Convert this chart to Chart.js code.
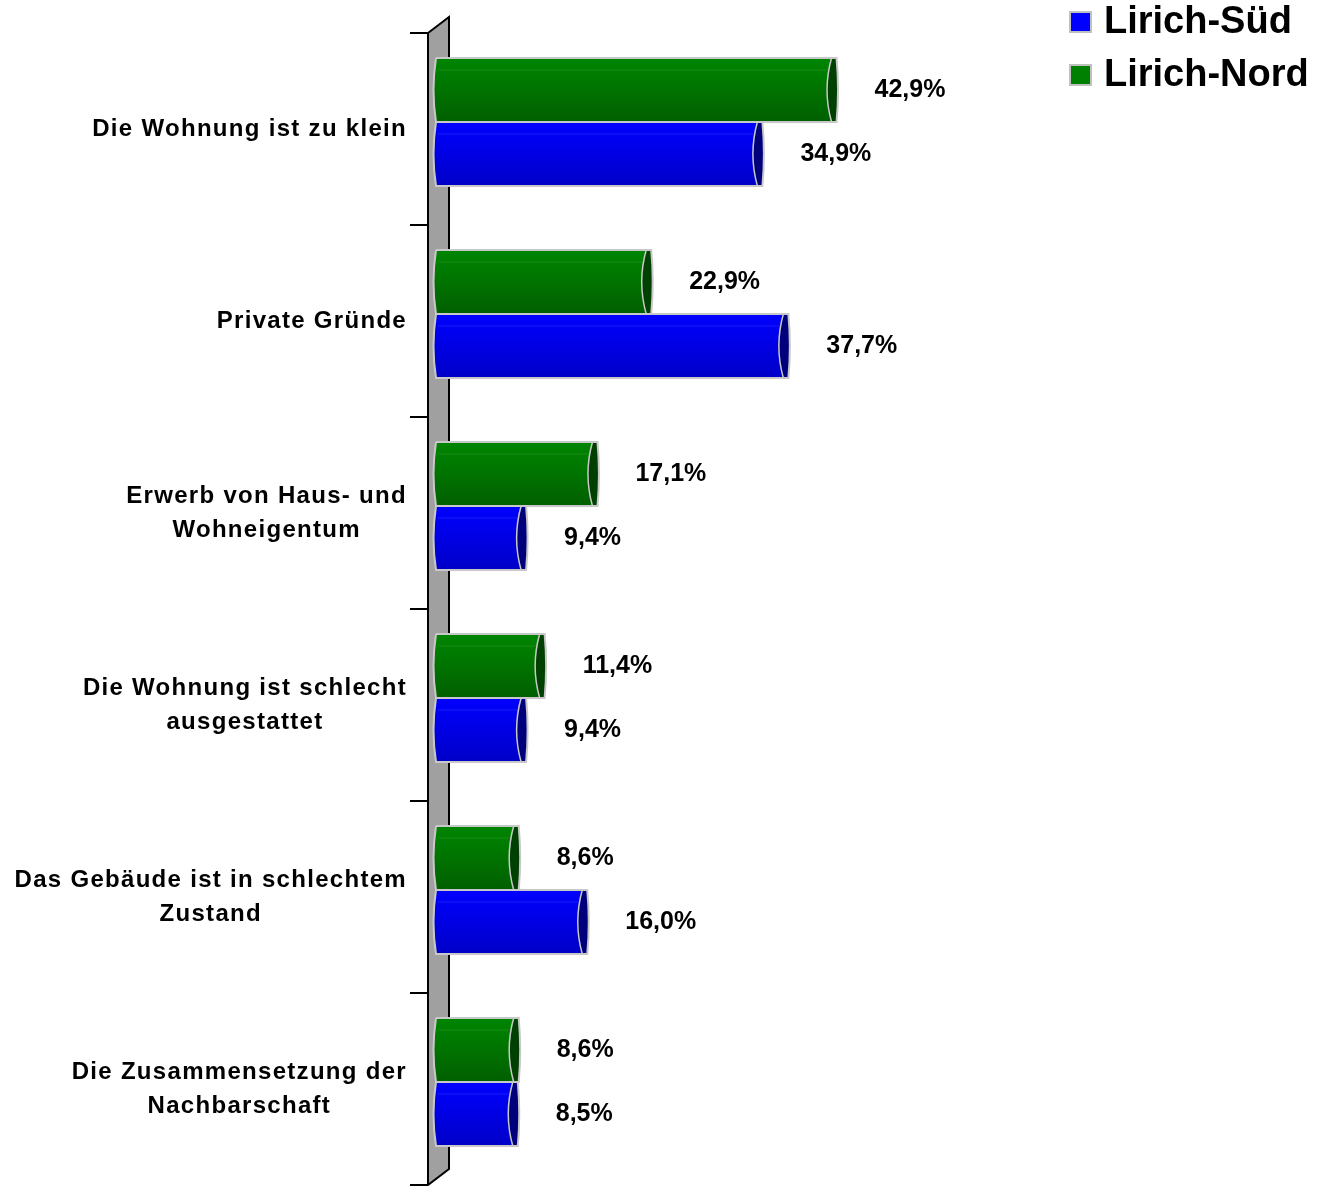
<!DOCTYPE html>
<html>
<head>
<meta charset="utf-8">
<script src="https://cdn.jsdelivr.net/npm/chart.js"></script>
<style>
  html, body { margin: 0; padding: 0; background: #fff; }
  #wrap { position: relative; width: 1324px; height: 1186px; }
</style>
</head>
<body>
<div id="wrap"><canvas id="movingChart"></canvas></div>
<script>
// categories (multi-line labels) and the two series
const categories = [
    ['Die Wohnung ist zu klein'],
    ['Private Gründe'],
    ['Erwerb von Haus- und', 'Wohneigentum'],
    ['Die Wohnung ist schlecht', 'ausgestattet'],
    ['Das Gebäude ist in schlechtem', 'Zustand'],
    ['Die Zusammensetzung der', 'Nachbarschaft']
];
const seriesNames = ['Lirich-Nord', 'Lirich-Süd'];
const nordValues = [42.9, 22.9, 17.1, 11.4, 8.6, 8.6];
const suedValues = [34.9, 37.7, 9.4, 9.4, 16.0, 8.5];

// colours: [top of gradient, bottom of gradient, end cap]
const shades = [
    ['#008600', '#005f00', '#004000'],
    ['#0000ff', '#0000c8', '#00007c']
];

const FONT = '"Liberation Sans", Arial, sans-serif';
const SHIFT = 7; // the 3D wall sits a bit lower than the bars

function fmt(v) {
    return v.toFixed(1).replace('.', ',') + '%';
}

const wallPlugin = {
    id: 'wall',
    beforeDatasetsDraw(chart) {
        const ctx = chart.ctx;
        const area = chart.chartArea;
        const top = area.top + SHIFT;
        const bottom = area.bottom + SHIFT;
        const wx = area.left - 11;
        ctx.save();
        ctx.fillStyle = '#a0a0a0';
        ctx.strokeStyle = '#000';
        ctx.lineWidth = 2;
        ctx.beginPath();
        ctx.moveTo(wx, top);
        ctx.lineTo(wx + 21, top - 16);
        ctx.lineTo(wx + 21, bottom - 16);
        ctx.lineTo(wx, bottom);
        ctx.closePath();
        ctx.fill();
        ctx.stroke();

        // tick marks between the categories
        const step = (bottom - top) / categories.length;
        ctx.beginPath();
        for (let i = 0; i <= categories.length; i++) {
            const ty = Math.round(top + i * step);
            ctx.moveTo(wx - 18, ty);
            ctx.lineTo(wx, ty);
        }
        ctx.stroke();

        // category labels, lines centred on each other, right edge fixed
        ctx.fillStyle = '#000';
        ctx.font = 'bold 24px ' + FONT;
        ctx.letterSpacing = '1.3px';
        ctx.textBaseline = 'middle';
        ctx.textAlign = 'center';
        const rightEdge = wx - 21;
        categories.forEach((lines, i) => {
            const cy = chart.scales.y.getPixelForTick(i) + SHIFT;
            const w = Math.max(...lines.map(l => ctx.measureText(l).width));
            const cx = rightEdge - w / 2;
            const lh = 34;
            lines.forEach((l, k) => {
                ctx.fillText(l, cx, cy + (k - (lines.length - 1) / 2) * lh);
            });
        });
        ctx.restore();
    }
};

const barPlugin = {
    id: 'bars3d',
    afterDatasetsDraw(chart) {
        const ctx = chart.ctx;
        ctx.save();
        chart.data.datasets.forEach((ds, di) => {
            const meta = chart.getDatasetMeta(di);
            const c = shades[di];
            meta.data.forEach((el, i) => {
                const p = el.getProps(['x', 'y', 'base', 'height'], true);
                const t = p.y - p.height / 2;
                const b = p.y + p.height / 2;
                const m = p.y;
                const l = p.base - 5;
                const r = p.x;

                const g = ctx.createLinearGradient(0, t, 0, b);
                g.addColorStop(0, c[0]);
                g.addColorStop(1, c[1]);

                // body
                ctx.beginPath();
                ctx.moveTo(l + 2, t);
                ctx.lineTo(r - 5, t);
                ctx.quadraticCurveTo(r - 14, m, r - 5, b);
                ctx.lineTo(l + 2, b);
                ctx.quadraticCurveTo(l - 3, m, l + 2, t);
                ctx.closePath();
                ctx.fillStyle = g;
                ctx.fill();

                // faint highlight near the top
                ctx.strokeStyle = 'rgba(255,255,255,0.1)';
                ctx.lineWidth = 1;
                ctx.beginPath();
                ctx.moveTo(l + 4, t + 12);
                ctx.lineTo(r - 9, t + 12);
                ctx.stroke();

                // end cap
                ctx.beginPath();
                ctx.moveTo(r - 5, t);
                ctx.quadraticCurveTo(r - 14, m, r - 5, b);
                ctx.lineTo(r, b);
                ctx.quadraticCurveTo(r + 3, m, r, t);
                ctx.closePath();
                ctx.fillStyle = c[2];
                ctx.fill();

                // outline
                ctx.strokeStyle = '#c8c8c8';
                ctx.lineWidth = 2;
                ctx.beginPath();
                ctx.moveTo(l + 2, t);
                ctx.lineTo(r, t);
                ctx.quadraticCurveTo(r + 3, m, r, b);
                ctx.lineTo(l + 2, b);
                ctx.quadraticCurveTo(l - 3, m, l + 2, t);
                ctx.stroke();
                ctx.lineWidth = 1.5;
                ctx.beginPath();
                ctx.moveTo(r - 5, t);
                ctx.quadraticCurveTo(r - 14, m, r - 5, b);
                ctx.stroke();

                // value label
                ctx.fillStyle = '#000';
                ctx.font = 'bold 25px ' + FONT;
                ctx.textAlign = 'left';
                ctx.textBaseline = 'middle';
                ctx.fillText(fmt(ds.data[i]), r + 38, m);
            });
        });
        ctx.restore();
    }
};

const legendPlugin = {
    id: 'sideLegend',
    afterDraw(chart) {
        const ctx = chart.ctx;
        ctx.save();
        ctx.font = 'bold 38px ' + FONT;
        ctx.textBaseline = 'middle';
        ctx.textAlign = 'left';
        // Süd first, Nord second
        [1, 0].forEach((di, k) => {
            const cy = 22 + k * 53;
            ctx.fillStyle = '#c0c0c0';
            ctx.fillRect(1069, cy - 11, 23, 22);
            ctx.fillStyle = chart.data.datasets[di].backgroundColor;
            ctx.fillRect(1071, cy - 9, 19, 18);
            ctx.fillStyle = '#000';
            ctx.fillText(chart.data.datasets[di].label, 1104, cy + 1);
        });
        ctx.restore();
    }
};

const ctx = document.getElementById('movingChart').getContext('2d');

new Chart(ctx, {
    type: 'bar',
    data: {
        labels: categories.map(c => c.join(' ')),
        datasets: [{
            label: seriesNames[0],
            data: nordValues,
            backgroundColor: '#008000',
            borderWidth: 0
        },
        {
            label: seriesNames[1],
            data: suedValues,
            backgroundColor: '#0000ff',
            borderWidth: 0
        }]
    },
    options: {
        indexAxis: 'y',
        responsive: true,
        maintainAspectRatio: false,
        animation: false,
        categoryPercentage: 0.6667,
        barPercentage: 1.0,
        layout: {
            padding: { left: 439, right: 329, top: 26, bottom: 8 }
        },
        scales: {
            x: { display: false, min: 0, max: 60 },
            y: { display: false }
        },
        plugins: {
            legend: { display: false },
            tooltip: { enabled: false }
        }
    },
    plugins: [wallPlugin, barPlugin, legendPlugin]
});
</script>
</body>
</html>
